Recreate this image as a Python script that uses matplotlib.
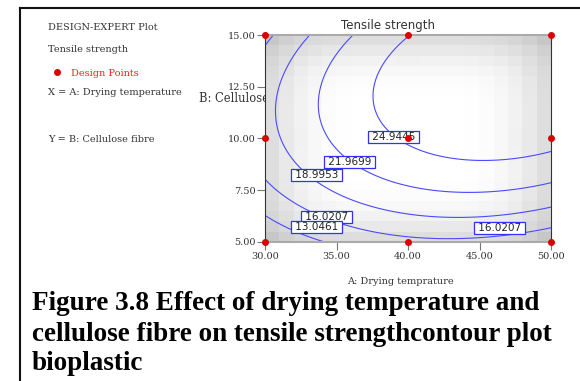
import numpy as np
import matplotlib
matplotlib.use("Agg")
import matplotlib.pyplot as plt
from matplotlib.lines import Line2D

# design points (drying temperature, cellulose fibre)
design_A = [30, 40, 50, 30, 40, 50, 30, 40, 50]
design_B = [15, 15, 15, 10, 10, 10, 5, 5, 5]

# quadratic model in coded units: b0, A, B, A^2, B^2, AB
coef = [25.26, 4.02, 4.79, -3.38, -5.19, 2.18]

levels = [13.0461, 16.0207, 18.9953, 21.9699, 24.9445]
label_text = ["24.9445", "21.9699", "18.9953", "16.0207", "13.0461", "16.0207"]
label_A = [39.0, 35.9, 33.6, 34.3, 33.6, 46.4]
label_B = [10.07, 8.86, 8.24, 6.2, 5.72, 5.68]

x_ticks = [30, 35, 40, 45, 50]
y_ticks = [5, 7.5, 10, 12.5, 15]

serif = "DejaVu Serif"
ink = "#333333"

fig = plt.figure(figsize=(5.8, 3.81), dpi=100)
ax = fig.add_axes([0.457, 0.365, 0.493, 0.543])

# standard error shading from the design
def terms(a, b):
    x = (np.asarray(a, float) - 40) / 10
    y = (np.asarray(b, float) - 10) / 5
    return np.stack([np.ones_like(x), x, y, x * x, y * y, x * y], axis=-1)

Xd = terms(design_A + [40] * 4, design_B + [10] * 4)
XtXi = np.linalg.inv(Xd.T @ Xd)
ncell = 20
gA = 30 + (np.arange(ncell) + 0.5) * 20 / ncell
gB = 5 + (np.arange(ncell) + 0.5) * 10 / ncell
GA, GB = np.meshgrid(gA, gB)
F = terms(GA, GB)
se = np.sqrt(np.einsum("...i,ij,...j->...", F, XtXi, F))
shade = 1 - 0.22 * (se - se.min()) / (se.max() - se.min())
ax.imshow(shade, cmap="gray", vmin=0, vmax=1, origin="lower",
          extent=[30, 50, 5, 15], aspect="auto", interpolation="nearest", zorder=0)

# response surface
A = np.linspace(30, 50, 300)
B = np.linspace(5, 15, 300)
AA, BB = np.meshgrid(A, B)
Z = terms(AA, BB) @ np.array(coef)
ax.contour(AA, BB, Z, levels=levels, colors="#4a4aff", linewidths=0.8, zorder=2)

for t, a, b in zip(label_text, label_A, label_B):
    ax.text(a, b, " " + t + " ", ha="center", va="center", fontsize=7.5,
            family="DejaVu Sans", color="#222222", zorder=3,
            bbox=dict(boxstyle="square,pad=0.08", fc="white", ec="#3030ff", lw=0.9))

ax.plot(design_A, design_B, "o", color="#dd0000", ms=4, mec="#dd0000",
        clip_on=False, zorder=5)

ax.set_xlim(30, 50)
ax.set_ylim(5, 15)
ax.set_xticks(x_ticks)
ax.set_xticklabels([f"{v:.2f}" for v in x_ticks])
ax.set_yticks(y_ticks)
ax.set_yticklabels([f"{v:.2f}" for v in y_ticks])
ax.tick_params(length=6, width=0.8, color="#777777", labelsize=7, labelcolor=ink, pad=1)
for lab in ax.get_xticklabels() + ax.get_yticklabels():
    lab.set_family(serif)
for s in ["left", "right"]:
    ax.spines[s].set_color(ink)
for s in ["top", "bottom"]:
    ax.spines[s].set_color("#aaaaaa")
    ax.spines[s].set_linewidth(1.5)
fig.text(388 / 580, 1 - 25 / 381, "Tensile strength", fontsize=8.5, family="DejaVu Sans",
         color=ink, ha="center", va="center")

# legend-ish text block on the left
fig.text(0.083, 0.929, "DESIGN-EXPERT Plot", fontsize=7, family=serif, color=ink, va="center")
fig.text(0.083, 0.869, "Tensile strength", fontsize=7, family=serif, color=ink, va="center")
fig.add_artist(Line2D([0.098], [0.810], marker="o", ms=4, color="#dd0000", ls=""))
fig.text(0.122, 0.808, "Design Points", fontsize=7, family=serif, color="#ee2222", va="center")
fig.text(0.083, 0.756, "X = A: Drying temperature", fontsize=7, family=serif, color=ink, va="center")
fig.text(0.083, 0.635, "Y = B: Cellulose fibre", fontsize=7, family=serif, color=ink, va="center")
fig.text(199 / 580, 1 - 98 / 381, "B: Cellulose fibre", fontsize=8.3, family=serif, color=ink,
         va="center", zorder=-1)
fig.text(400 / 580, 1 - 281 / 381, "A: Drying temprature", fontsize=7, family=serif, color=ink,
         ha="center", va="center")

# caption
caption = ["Figure 3.8 Effect of drying temperature and",
           "cellulose fibre on tensile strengthcontour plot",
           "bioplastic"]
for line, yb in zip(caption, [310, 341, 370]):
    fig.text(0.055, 1 - yb / 381, line, fontsize=19.5, family="Liberation Serif", weight="bold",
             color="black", va="baseline")

# page frame
fig.add_artist(Line2D([0.0345, 0.0345], [0.0, 0.979], color="#111111", lw=1.5))
fig.add_artist(Line2D([0.0345, 1.0], [0.979, 0.979], color="#111111", lw=1.5))

fig.savefig("out.png")
